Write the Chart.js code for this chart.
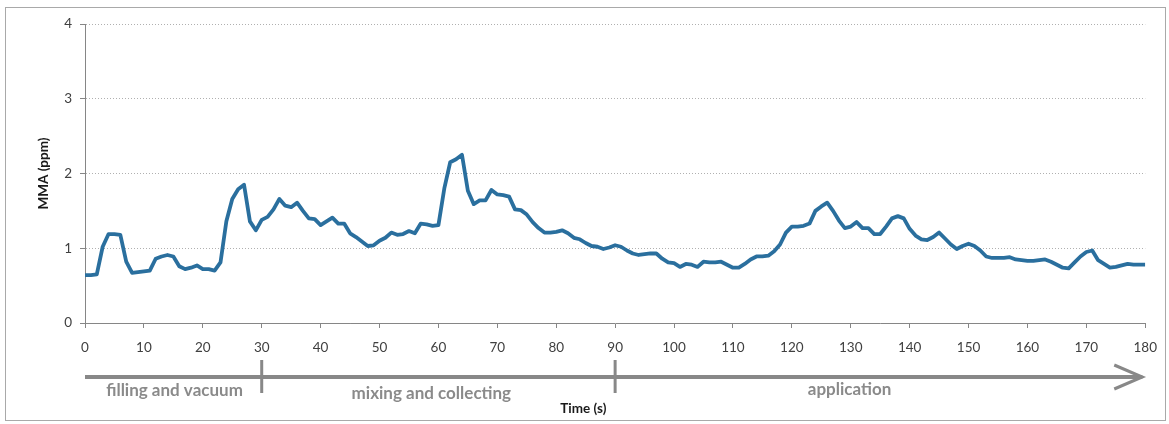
<!DOCTYPE html>
<html>
<head>
<meta charset="utf-8">
<title>MMA over time</title>
<script src="https://cdn.jsdelivr.net/npm/chart.js@4/dist/chart.umd.min.js"></script>
<style>
  html, body { margin: 0; padding: 0; background: #fff; }
  #wrap { width: 1169px; height: 424px; position: relative; }
</style>
</head>
<body>
<div id="wrap"><canvas id="mmaChart"></canvas></div>
<script>
// one reading per second, 0..180 s
const seconds = Array.from({ length: 181 }, (_, i) => i);

const mma = [
  0.64, 0.64, 0.65, 1.02, 1.19, 1.19, 1.18, 0.82, 0.67, 0.68,
  0.69, 0.70, 0.86, 0.89, 0.91, 0.89, 0.76, 0.72, 0.74, 0.77,
  0.72, 0.72, 0.70, 0.81, 1.36, 1.66, 1.79, 1.85, 1.36, 1.24,
  1.38, 1.42, 1.52, 1.66, 1.57, 1.55, 1.61, 1.50, 1.40, 1.39,
  1.31, 1.36, 1.41, 1.33, 1.33, 1.20, 1.15, 1.09, 1.03, 1.04,
  1.10, 1.14, 1.21, 1.18, 1.19, 1.23, 1.20, 1.33, 1.32, 1.30,
  1.31, 1.80, 2.15, 2.19, 2.25, 1.77, 1.59, 1.64, 1.64, 1.78,
  1.72, 1.71, 1.69, 1.52, 1.51, 1.45, 1.35, 1.27, 1.21, 1.21,
  1.22, 1.24, 1.20, 1.14, 1.12, 1.07, 1.03, 1.02, 0.99, 1.01,
  1.04, 1.02, 0.97, 0.93, 0.91, 0.92, 0.93, 0.93, 0.86, 0.81,
  0.80, 0.75, 0.79, 0.78, 0.75, 0.82, 0.81, 0.81, 0.82, 0.78,
  0.74, 0.74, 0.79, 0.85, 0.89, 0.89, 0.90, 0.96, 1.05, 1.21,
  1.29, 1.29, 1.30, 1.33, 1.50, 1.56, 1.61, 1.50, 1.37, 1.27,
  1.29, 1.35, 1.27, 1.27, 1.19, 1.19, 1.29, 1.40, 1.43, 1.40,
  1.26, 1.17, 1.12, 1.11, 1.15, 1.21, 1.13, 1.05, 0.99, 1.03,
  1.06, 1.03, 0.97, 0.89, 0.87, 0.87, 0.87, 0.88, 0.85, 0.84,
  0.83, 0.83, 0.84, 0.85, 0.82, 0.78, 0.74, 0.73, 0.81, 0.89,
  0.95, 0.97, 0.84, 0.79, 0.74, 0.75, 0.77, 0.79, 0.78, 0.78,
  0.78
];

const yTicks = [0, 1, 2, 3, 4];
const xTicks = [0, 10, 20, 30, 40, 50, 60, 70, 80, 90, 100, 110, 120, 130, 140, 150, 160, 170, 180];

// process phases along the time axis
const phaseBounds = [0, 30, 90, 180];
const phaseNames = ['filling and vacuum', 'mixing and collecting', 'application'];

const points = seconds.map((s, i) => ({ x: s, y: mma[i] }));

// frame, phase arrow and its labels underneath the x axis
const phaseArrow = {
  id: 'phaseArrow',
  beforeDraw(chart) {
    const ctx = chart.ctx;
    ctx.save();
    ctx.strokeStyle = '#a9a9a9';
    ctx.lineWidth = 1;
    ctx.strokeRect(5.5, 7.5, chart.width - 9, chart.height - 11);
    ctx.restore();
  },
  afterDraw(chart) {
    const ctx = chart.ctx;
    const xs = chart.scales.x;
    const base = chart.chartArea.bottom;
    const lineY = base + 54;
    const start = xs.getPixelForValue(phaseBounds[0]);
    const tip = xs.getPixelForValue(phaseBounds[phaseBounds.length - 1]) - 3;

    ctx.save();
    ctx.strokeStyle = '#888888';
    ctx.lineCap = 'butt';
    ctx.lineWidth = 4;
    ctx.beginPath();
    ctx.moveTo(start, lineY);
    ctx.lineTo(tip, lineY);
    ctx.stroke();

    ctx.lineWidth = 3;
    ctx.lineJoin = 'miter';
    ctx.beginPath();
    ctx.moveTo(tip - 28, lineY - 12);
    ctx.lineTo(tip, lineY);
    ctx.lineTo(tip - 28, lineY + 12);
    ctx.stroke();

    phaseBounds.slice(1, -1).forEach(t => {
      const px = xs.getPixelForValue(t);
      ctx.beginPath();
      ctx.moveTo(px, lineY - 17);
      ctx.lineTo(px, lineY + 16);
      ctx.stroke();
    });

    ctx.fillStyle = '#8a8a8a';
    ctx.font = 'bold 17px Lato';
    ctx.textAlign = 'center';
    ctx.textBaseline = 'middle';
    ctx.fillText(phaseNames[0], xs.getPixelForValue(15.2), lineY + 14);
    ctx.fillText(phaseNames[1], xs.getPixelForValue(58.8), lineY + 17);
    ctx.fillText(phaseNames[2], xs.getPixelForValue(129.8), lineY + 13);

    ctx.fillStyle = '#1a1a1a';
    ctx.font = 'bold 13.5px Lato';
    ctx.fillText('Time (s)', xs.getPixelForValue(84.6), base + 86);
    ctx.restore();
  }
};

new Chart(document.getElementById('mmaChart'), {
  type: 'line',
  data: {
    datasets: [{
      label: 'MMA',
      data: points,
      borderColor: '#2a6f9e',
      borderWidth: 3.8,
      borderJoinStyle: 'round',
      pointRadius: 0,
      tension: 0,
      fill: false
    }]
  },
  options: {
    responsive: true,
    maintainAspectRatio: false,
    animation: false,
    layout: { padding: { left: 0, top: 24, right: 19, bottom: 0 } },
    plugins: {
      legend: { display: false },
      tooltip: { enabled: false }
    },
    scales: {
      x: {
        type: 'linear',
        min: 0,
        max: 180,
        afterFit: s => { s.height = 101; },
        afterBuildTicks: s => { s.ticks = xTicks.map(v => ({ value: v })); },
        ticks: {
          color: '#404040',
          font: { family: 'Lato', size: 13.5 },
          padding: 12,
          maxRotation: 0
        },
        grid: {
          drawOnChartArea: false,
          drawTicks: true,
          tickLength: 5,
          tickColor: '#868686'
        },
        border: { color: '#868686', width: 1 }
      },
      y: {
        min: 0,
        max: 4,
        afterFit: s => { s.width = 85; },
        afterBuildTicks: s => { s.ticks = yTicks.map(v => ({ value: v })); },
        ticks: {
          color: '#404040',
          font: { family: 'Lato', size: 13.5 },
          padding: 8
        },
        grid: {
          color: '#b0b0b0',
          lineWidth: 1,
          tickLength: 5,
          tickColor: '#868686'
        },
        border: { color: '#868686', width: 1, dash: [1, 2] },
        title: {
          display: true,
          text: 'MMA (ppm)',
          color: '#1a1a1a',
          font: { family: 'Lato', size: 13.5, weight: 'bold' },
          padding: { top: 36, bottom: 0 }
        }
      }
    }
  },
  plugins: [phaseArrow]
});
</script>
</body>
</html>
